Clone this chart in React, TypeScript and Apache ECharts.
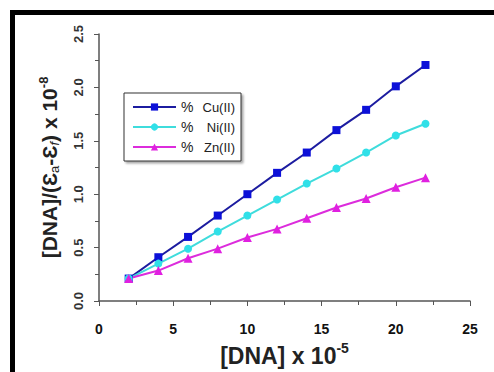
import React, { useEffect, useRef } from "react";
import * as echarts from "echarts";

const concentrations = [2, 4, 6, 8, 10, 12, 14, 16, 18, 20, 22];
const cuValues = [0.21, 0.41, 0.6, 0.8, 1.0, 1.2, 1.39, 1.6, 1.79, 2.01, 2.21];
const niValues = [0.21, 0.35, 0.49, 0.65, 0.8, 0.95, 1.1, 1.24, 1.39, 1.55, 1.66];
const znValues = [0.21, 0.285, 0.4, 0.49, 0.595, 0.675, 0.775, 0.875, 0.96, 1.065, 1.155];
const seriesNames = ["Cu(II)", "Ni(II)", "Zn(II)"];

const pairs = (ys: number[]) => concentrations.map((x, i) => [x, ys[i]]);
const FONT = "Arial";

export default function App() {
  const ref = useRef<HTMLDivElement>(null);
  useEffect(() => {
    document.body.style.margin = "0";
    const chart = echarts.init(ref.current!, null, { renderer: "svg" });
    const axisColor = "#555";
    chart.setOption({
      animation: false,
      backgroundColor: "#fff",
      textStyle: { fontFamily: FONT },
      grid: { left: 99, right: 24, top: 34, bottom: 64 },
      graphic: [
        {
          type: "rect",
          shape: { x: 12.5, y: 12.5, width: 520, height: 420 },
          style: { fill: "none", stroke: "#000", lineWidth: 5 },
          z: 100,
          silent: true,
        },
      ],
      legend: {
        left: 124,
        top: 93,
        orient: "vertical",
        padding: [7, 6, 7, 8],
        itemWidth: 43,
        itemHeight: 9,
        itemGap: 6,
        backgroundColor: "#fff",
        borderColor: "#333",
        borderWidth: 1,
        shadowColor: "rgba(0,0,0,0.35)",
        shadowBlur: 2,
        shadowOffsetX: 2,
        shadowOffsetY: 2,
        formatter: (name: string) => `{p|%}{n|${name}}`,
        textStyle: {
          fontFamily: FONT,
          fontSize: 14,
          color: "#222",
          rich: {
            p: { width: 21, fontSize: 14, fontFamily: FONT, color: "#222" },
            n: { width: 33, align: "right", fontSize: 13, fontFamily: FONT, color: "#222" },
          },
        },
        data: seriesNames,
      },
      xAxis: {
        type: "value",
        min: 0,
        max: 25,
        interval: 5,
        name: "{b|[DNA] x 10}{s|-5}",
        nameLocation: "middle",
        nameGap: 40,
        nameTextStyle: {
          rich: {
            b: {
              fontFamily: FONT,
              fontSize: 23,
              fontWeight: "bold",
              color: "#222",
              lineHeight: 26,
              verticalAlign: "bottom",
            },
            s: {
              fontFamily: FONT,
              fontSize: 14,
              fontWeight: "bold",
              color: "#222",
              verticalAlign: "top",
              lineHeight: 26,
            },
          },
        },
        axisLine: { show: true, onZero: false, lineStyle: { color: axisColor, width: 1.5 } },
        axisTick: { show: true, length: 5, lineStyle: { color: axisColor } },
        minorTick: { show: true, splitNumber: 2, length: 4, lineStyle: { color: axisColor } },
        splitLine: { show: false },
        axisLabel: {
          margin: 21,
          fontFamily: FONT,
          fontSize: 14,
          fontWeight: "bold",
          color: "#111",
        },
      },
      yAxis: {
        type: "value",
        min: 0,
        max: 2.5,
        interval: 0.5,
        name: "{b|[DNA]/(Ɛ}{d|a}{b|-Ɛ}{di|f}{b|) x 10}{s|-8}",
        nameLocation: "middle",
        nameGap: 38,
        nameRotate: 90,
        nameTextStyle: {
          rich: {
            b: {
              fontFamily: FONT,
              fontSize: 21,
              fontWeight: "bold",
              color: "#222",
              lineHeight: 24,
            },
            d: {
              fontFamily: FONT,
              fontSize: 13,
              color: "#222",
              verticalAlign: "bottom",
              lineHeight: 24,
            },
            di: {
              fontFamily: FONT,
              fontSize: 13,
              fontStyle: "italic",
              color: "#222",
              verticalAlign: "bottom",
              lineHeight: 24,
            },
            s: {
              fontFamily: FONT,
              fontSize: 13,
              fontWeight: "bold",
              color: "#222",
              verticalAlign: "top",
              lineHeight: 24,
            },
          },
        },
        axisLine: { show: true, lineStyle: { color: axisColor, width: 1.5 } },
        axisTick: { show: true, length: 5, lineStyle: { color: axisColor } },
        minorTick: { show: true, splitNumber: 2, length: 4, lineStyle: { color: axisColor } },
        splitLine: { show: false },
        axisLabel: {
          rotate: 90,
          margin: 14,
          fontFamily: FONT,
          fontSize: 13,
          fontWeight: "bold",
          color: "#333",
          formatter: (v: number) => v.toFixed(1),
        },
      },
      series: [
        {
          name: seriesNames[0],
          type: "line",
          data: pairs(cuValues),
          symbol: "rect",
          symbolSize: 8,
          lineStyle: { color: "#1c1ca0", width: 2 },
          itemStyle: { color: "#0c10d8" },
        },
        {
          name: seriesNames[1],
          type: "line",
          data: pairs(niValues),
          symbol: "circle",
          symbolSize: 8,
          lineStyle: { color: "#3fdcdc", width: 2 },
          itemStyle: { color: "#30e0e8" },
        },
        {
          name: seriesNames[2],
          type: "line",
          data: pairs(znValues),
          symbol: "triangle",
          symbolSize: 9,
          lineStyle: { color: "#dc2cdc", width: 2 },
          itemStyle: { color: "#e020e0" },
        },
      ],
    });
    return () => chart.dispose();
  }, []);
  return <div ref={ref} style={{ width: 494, height: 372 }} />;
}
